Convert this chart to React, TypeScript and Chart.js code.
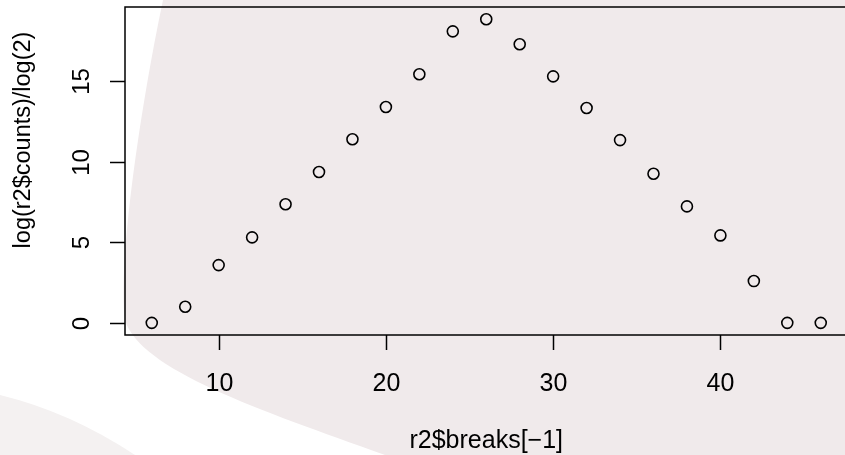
import React, { useEffect, useRef } from "react";
import { Chart, registerables } from "chart.js";

Chart.register(...registerables);

// ---- data ----
const xValues = [6, 8, 10, 12, 14, 16, 18, 20, 22, 24, 26, 28, 30, 32, 34, 36, 38, 40, 42, 44, 46];
const yValues = [0, 1.0, 3.58, 5.3, 7.35, 9.35, 11.38, 13.38, 15.41, 18.07, 18.82, 17.27, 15.28, 13.32, 11.33, 9.24, 7.22, 5.42, 2.59, 0, 0];
const xTicks = [10, 20, 30, 40];
const yTicks = [0, 5, 10, 15];
const xTitle = "r2$breaks[\u22121]";
const yTitle = "log(r2$counts)/log(2)";

const FONT = '"Liberation Sans", Arial, Helvetica, sans-serif';

const rStylePlugin = {
  id: "rStyle",
  beforeDraw(chart: any) {
    const { ctx, width, height } = chart;
    ctx.save();
    ctx.fillStyle = "#ffffff";
    ctx.fillRect(0, 0, width, height);
    // watermark shape
    ctx.fillStyle = "#f0eaeb";
    ctx.beginPath();
    ctx.moveTo(163, 0);
    ctx.lineTo(width, 0);
    ctx.lineTo(width, height);
    ctx.lineTo(385, height);
    ctx.bezierCurveTo(260, 410, 140, 370, 125, 320);
    ctx.bezierCurveTo(118, 260, 140, 110, 163, 0);
    ctx.closePath();
    ctx.fill();
    // lighter corner band
    ctx.fillStyle = "#f4f1f1";
    ctx.beginPath();
    ctx.moveTo(0, 395);
    ctx.quadraticCurveTo(70, 412, 135, height);
    ctx.lineTo(0, height);
    ctx.closePath();
    ctx.fill();
    ctx.restore();
  },
  afterDraw(chart: any) {
    const { ctx, chartArea: a, scales } = chart;
    const x = scales.x;
    const y = scales.y;
    ctx.save();
    ctx.strokeStyle = "#000";
    ctx.fillStyle = "#000";
    ctx.lineWidth = 1.5;
    ctx.strokeRect(a.left, a.top, a.right - a.left, a.bottom - a.top);

    // x axis ticks
    ctx.font = `25px ${FONT}`;
    ctx.textAlign = "center";
    ctx.textBaseline = "alphabetic";
    x.ticks.forEach((t: any) => {
      const px = Math.round(x.getPixelForValue(t.value)) + 0.5;
      ctx.beginPath();
      ctx.moveTo(px, a.bottom);
      ctx.lineTo(px, a.bottom + 15);
      ctx.stroke();
      ctx.fillText(String(t.value), px, 391);
    });
    ctx.fillText(xTitle, (a.left + a.right) / 2, 448);

    // y axis ticks
    ctx.font = `24px ${FONT}`;
    y.ticks.forEach((t: any) => {
      const py = Math.round(y.getPixelForValue(t.value)) + 0.5;
      ctx.beginPath();
      ctx.moveTo(a.left, py);
      ctx.lineTo(a.left - 15, py);
      ctx.stroke();
      ctx.save();
      ctx.translate(88.5, py);
      ctx.rotate(-Math.PI / 2);
      ctx.fillText(String(t.value), 0, 0);
      ctx.restore();
    });
    ctx.font = `23.5px ${FONT}`;
    ctx.save();
    ctx.translate(29.5, 140);
    ctx.rotate(-Math.PI / 2);
    ctx.fillText(yTitle, 0, 0);
    ctx.restore();
    ctx.restore();
  },
};

export default function App() {
  const canvasRef = useRef<HTMLCanvasElement | null>(null);

  useEffect(() => {
    const canvas = canvasRef.current;
    if (!canvas) return;
    const chart = new Chart(canvas, {
      type: "scatter",
      data: {
        datasets: [
          {
            data: xValues.map((v, i) => ({ x: v, y: yValues[i] })),
            pointStyle: "circle",
            pointRadius: 5.5,
            pointHoverRadius: 5.5,
            pointBorderWidth: 1.6,
            borderColor: "#000",
            backgroundColor: "rgba(0,0,0,0)",
            showLine: false,
            clip: false,
          },
        ],
      },
      options: {
        responsive: false,
        maintainAspectRatio: false,
        devicePixelRatio: 1,
        animation: false,
        events: [],
        layout: { autoPadding: false, padding: { left: 125, top: 7, right: 0.5, bottom: 120 } },
        plugins: { legend: { display: false }, tooltip: { enabled: false }, title: { display: false } },
        scales: {
          x: {
            type: "linear",
            min: 4.4,
            max: 47.6,
            display: false,
            afterBuildTicks: (s: any) => {
              s.ticks = xTicks.map((v) => ({ value: v }));
            },
          },
          y: {
            type: "linear",
            min: -0.753,
            max: 19.58,
            display: false,
            afterBuildTicks: (s: any) => {
              s.ticks = yTicks.map((v) => ({ value: v }));
            },
          },
        },
      },
      plugins: [rStylePlugin],
    });
    return () => chart.destroy();
  }, []);

  return (
    <div
      style={{
        position: "fixed",
        left: 0,
        top: 0,
        width: 845,
        height: 455,
        overflow: "hidden",
        background: "#fff",
      }}
    >
      <canvas ref={canvasRef} width={848} height={455} style={{ display: "block", width: 848, height: 455 }} />
    </div>
  );
}
